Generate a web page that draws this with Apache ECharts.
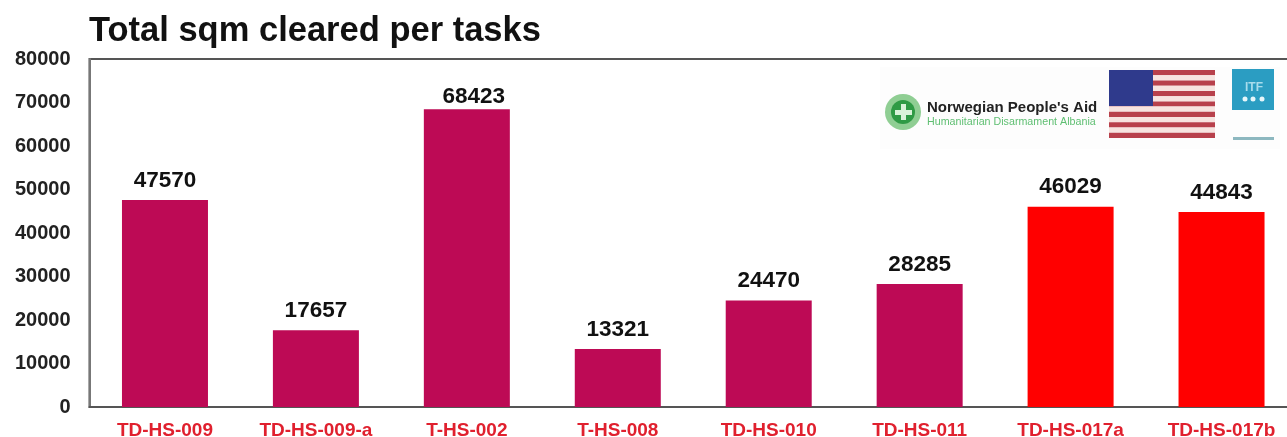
<!DOCTYPE html>
<html><head><meta charset="utf-8"><style>html,body{margin:0;padding:0;background:#fff}#c{width:1287px;height:437px}</style>
<script src="https://cdn.jsdelivr.net/npm/echarts@6/dist/echarts.min.js"></script></head>
<body><div id="c"></div>
<script>
const categories=["TD-HS-009","TD-HS-009-a","T-HS-002","T-HS-008","TD-HS-010","TD-HS-011","TD-HS-017a","TD-HS-017b"];
const values=[47570,17657,68423,13321,24470,28285,46029,44843];
const barColors=["#bd0a55","#bd0a55","#bd0a55","#bd0a55","#bd0a55","#bd0a55","#ff0000","#ff0000"];
const logoTitle="Norwegian People's Aid";
const logoSub="Humanitarian Disarmament Albania";
const font="Liberation Sans";
const chart=echarts.init(document.getElementById('c'),null,{renderer:'canvas'});
const stripes=[];
for(let i=0;i<13;i++){stripes.push({type:'rect',z:11,shape:{x:1109,y:70+i*5.23,width:106,height:5.23},style:{fill:i%2?'#f7e4e0':'#b8414c'}});}
const dots=[1245,1253,1262].map(x=>({type:'circle',z:12,shape:{cx:x,cy:99,r:2.5},style:{fill:'#e6f6fa'}}));
chart.setOption({
 animation:false,
 title:{text:"Total sqm cleared per tasks",left:84,top:9,textStyle:{fontFamily:font,fontSize:34.5,fontWeight:'bold',color:'#111'}},
 grid:{left:89.5,right:-10,top:59,bottom:30,outerBoundsMode:'none',show:true,borderColor:'#555',borderWidth:2,backgroundColor:'transparent'},
 xAxis:{type:'category',data:categories,axisTick:{show:false},axisLine:{lineStyle:{color:'#555',width:2}},
  axisLabel:{interval:0,color:'#e0202e',fontFamily:font,fontWeight:'bold',fontSize:19,margin:14}},
 yAxis:{type:'value',min:0,max:80000,interval:10000,axisLine:{show:true,lineStyle:{color:'#777',width:2}},axisTick:{show:false},splitLine:{show:false},
  axisLabel:{color:'#222',fontFamily:font,fontWeight:'bold',fontSize:20,margin:19,formatter:v=>String(v)}},
 series:[{type:'bar',barWidth:86,data:values.map((v,i)=>({value:v,itemStyle:{color:barColors[i]},
   label:i===2?{offset:[7,7]}:{}})),
  label:{show:true,position:'top',distance:8,color:'#111',fontFamily:font,fontWeight:'bold',fontSize:22.5}}],
 graphic:[
  {type:'rect',z:10,shape:{x:880,y:67,width:400,height:82},style:{fill:'#fdfdfd'}},
  {type:'circle',z:11,shape:{cx:903,cy:112,r:18},style:{fill:'#8fce93'}},
  {type:'circle',z:11,shape:{cx:903,cy:112,r:12},style:{fill:'#2f9a45'}},
  {type:'rect',z:12,shape:{x:901,y:104,width:5,height:16},style:{fill:'#d9f2d9'}},
  {type:'rect',z:12,shape:{x:895,y:110,width:17,height:5},style:{fill:'#d9f2d9'}},
  {type:'text',z:11,x:927,y:100,style:{text:logoTitle,font:'bold 15px "Liberation Sans"',fill:'#222'}},
  {type:'text',z:11,x:927,y:117,style:{text:logoSub,font:'10.7px "Liberation Sans"',fill:'#5fbf72'}},
  {type:'group',children:stripes},
  {type:'rect',z:12,shape:{x:1109,y:70,width:44,height:36},style:{fill:'#2f3a8c'}},
  {type:'rect',z:11,shape:{x:1232,y:69,width:42,height:41},style:{fill:'#2b9dc2'}},
  {type:'text',z:12,x:1245,y:82,style:{text:'ITF',font:'bold 12px "Liberation Sans"',fill:'#a8dcec'}},
  {type:'group',children:dots},
  {type:'rect',z:11,shape:{x:1233,y:137,width:41,height:3},style:{fill:'#8db8c0'}}
 ]
});
</script></body></html>
